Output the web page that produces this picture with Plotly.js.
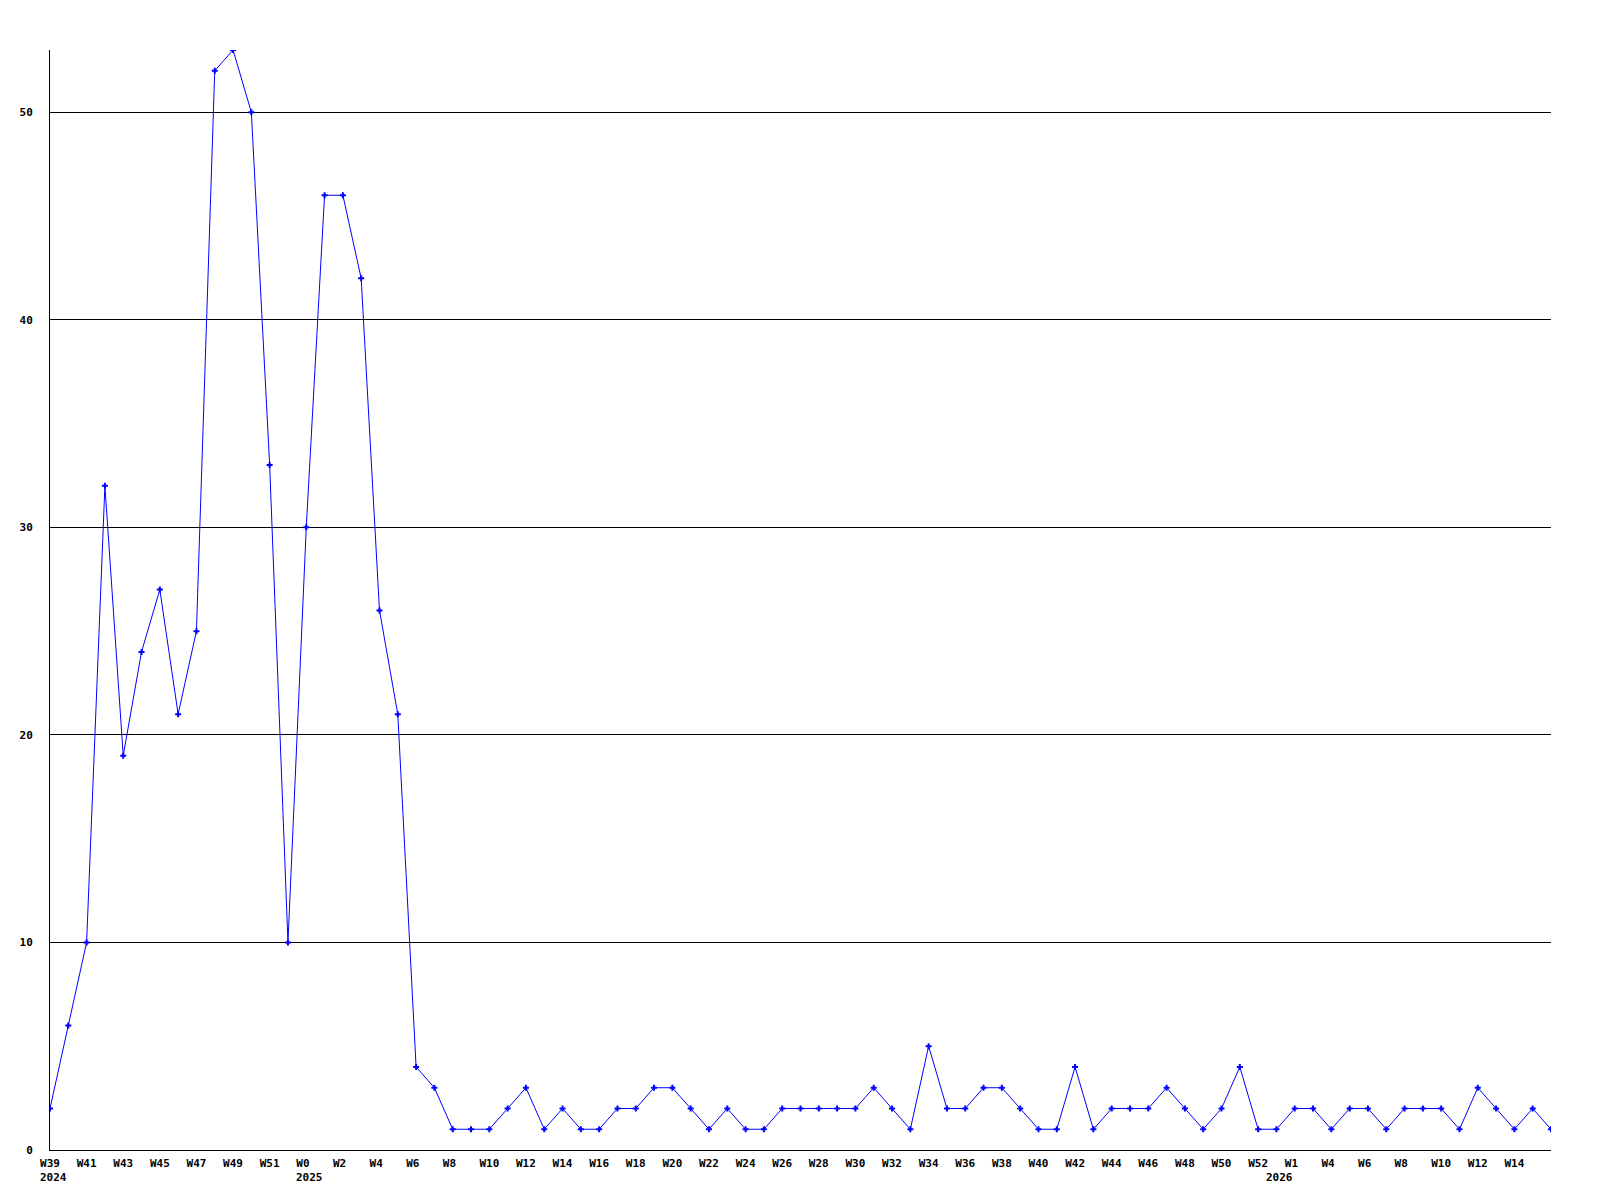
<!DOCTYPE html>
<html>
<head>
<meta charset="utf-8">
<script src="https://cdn.plot.ly/plotly-3.0.1.min.js"></script>
<style>html,body{margin:0;padding:0;background:#fff;}#chart{width:1600px;height:1200px;}</style>
</head>
<body>
<div id="chart"></div>
<script>
// Week labels and their years
const years = [
  2024,2024,2024,2024,2024,2024,2024,2024,2024,2024,2024,2024,2024,2024,
  2025,2025,2025,2025,2025,2025,2025,2025,2025,2025,2025,2025,2025,2025,2025,2025,2025,2025,2025,2025,2025,2025,2025,2025,2025,2025,2025,2025,2025,2025,2025,2025,2025,2025,2025,2025,2025,2025,2025,2025,2025,2025,2025,2025,2025,2025,2025,2025,2025,2025,2025,2025,2025,
  2026,2026,2026,2026,2026,2026,2026,2026,2026,2026,2026,2026,2026,2026,2026,2026
];
const weeks = [
  "W39","W40","W41","W42","W43","W44","W45","W46","W47","W48","W49","W50","W51","W52",
  "W0","W1","W2","W3","W4","W5","W6","W7","W8","W9","W10","W11","W12","W13","W14","W15","W16","W17","W18","W19","W20",
  "W21","W22","W23","W24","W25","W26","W27","W28","W29","W30","W31","W32","W33","W34","W35","W36","W37","W38","W39","W40",
  "W41","W42","W43","W44","W45","W46","W47","W48","W49","W50","W51","W52",
  "W0","W1","W2","W4","W5","W6","W7","W8","W9","W10","W11","W12","W13","W14","W15","W16"
];
// Weekly counts
const counts = [
  2,6,10,32,19,24,27,21,25,52,53,50,33,10,
  30,46,46,42,26,21,4,3,1,1,1,2,3,1,2,1,1,2,2,3,3,
  2,1,2,1,1,2,2,2,2,2,3,2,1,5,2,2,3,3,2,1,
  1,4,1,2,2,2,3,2,1,2,4,1,
  1,2,2,1,2,2,1,2,2,2,1,3,2,1,2,1
];
const yTicks = [0,10,20,30,40,50];

const cats = weeks.map((w,i) => years[i] + "-" + w);
const tickIdx = cats.map((c,i) => i).filter(i => i % 2 === 0 && i < cats.length - 1);
const tickvals = tickIdx.map(i => cats[i]);
const ticktext = tickIdx.map(i => weeks[i].length < 3 ? weeks[i] + "\u00A0" : weeks[i]);

const yearAnn = [];
cats.forEach((c,i) => {
  if (i === 0 || years[i] !== years[i-1]) {
    yearAnn.push({
      x: c, xref: 'x', y: 0, yref: 'paper',
      text: String(years[i]), showarrow: false,
      xanchor: 'left', yanchor: 'middle', xshift: -10, yshift: -27,
      borderpad: 0, borderwidth: 0,
      font: {family: 'DejaVu Sans Mono', size: 11, color: '#000', weight: 'bold'}
    });
  }
});

const trace = {
  x: cats, y: counts, type: 'scatter', mode: 'lines+markers',
  line: {color: '#0000ff', width: 1},
  marker: {symbol: 'cross', size: 5, color: '#0000ff'},
  hoverinfo: 'skip'
};

const font = {family: 'DejaVu Sans Mono', size: 11, color: '#000', weight: 'bold'};

const layout = {
  width: 1600, height: 1200,
  margin: {l: 50, r: 49, t: 50, b: 50},
  paper_bgcolor: '#fff', plot_bgcolor: '#fff',
  showlegend: false,
  font: font,
  xaxis: {
    type: 'category', categoryorder: 'array', categoryarray: cats,
    range: [0, cats.length - 1],
    tickmode: 'array', tickvals: tickvals, ticktext: ticktext,
    showgrid: false, zeroline: false,
    showline: true, linecolor: '#000', linewidth: 1,
    ticks: 'outside', ticklen: 3, tickcolor: 'rgba(0,0,0,0)',
    tickangle: 0, tickfont: font
  },
  yaxis: {
    range: [0, 53], tickmode: 'array', tickvals: yTicks,
    showgrid: true, gridcolor: '#000', gridwidth: 1,
    zeroline: false,
    showline: true, linecolor: '#000', linewidth: 1,
    ticks: 'outside', ticklen: 14, tickcolor: 'rgba(0,0,0,0)',
    tickfont: font
  },
  annotations: yearAnn
};

Plotly.newPlot('chart', [trace], layout, {displayModeBar: false, staticPlot: true});
</script>
</body>
</html>
